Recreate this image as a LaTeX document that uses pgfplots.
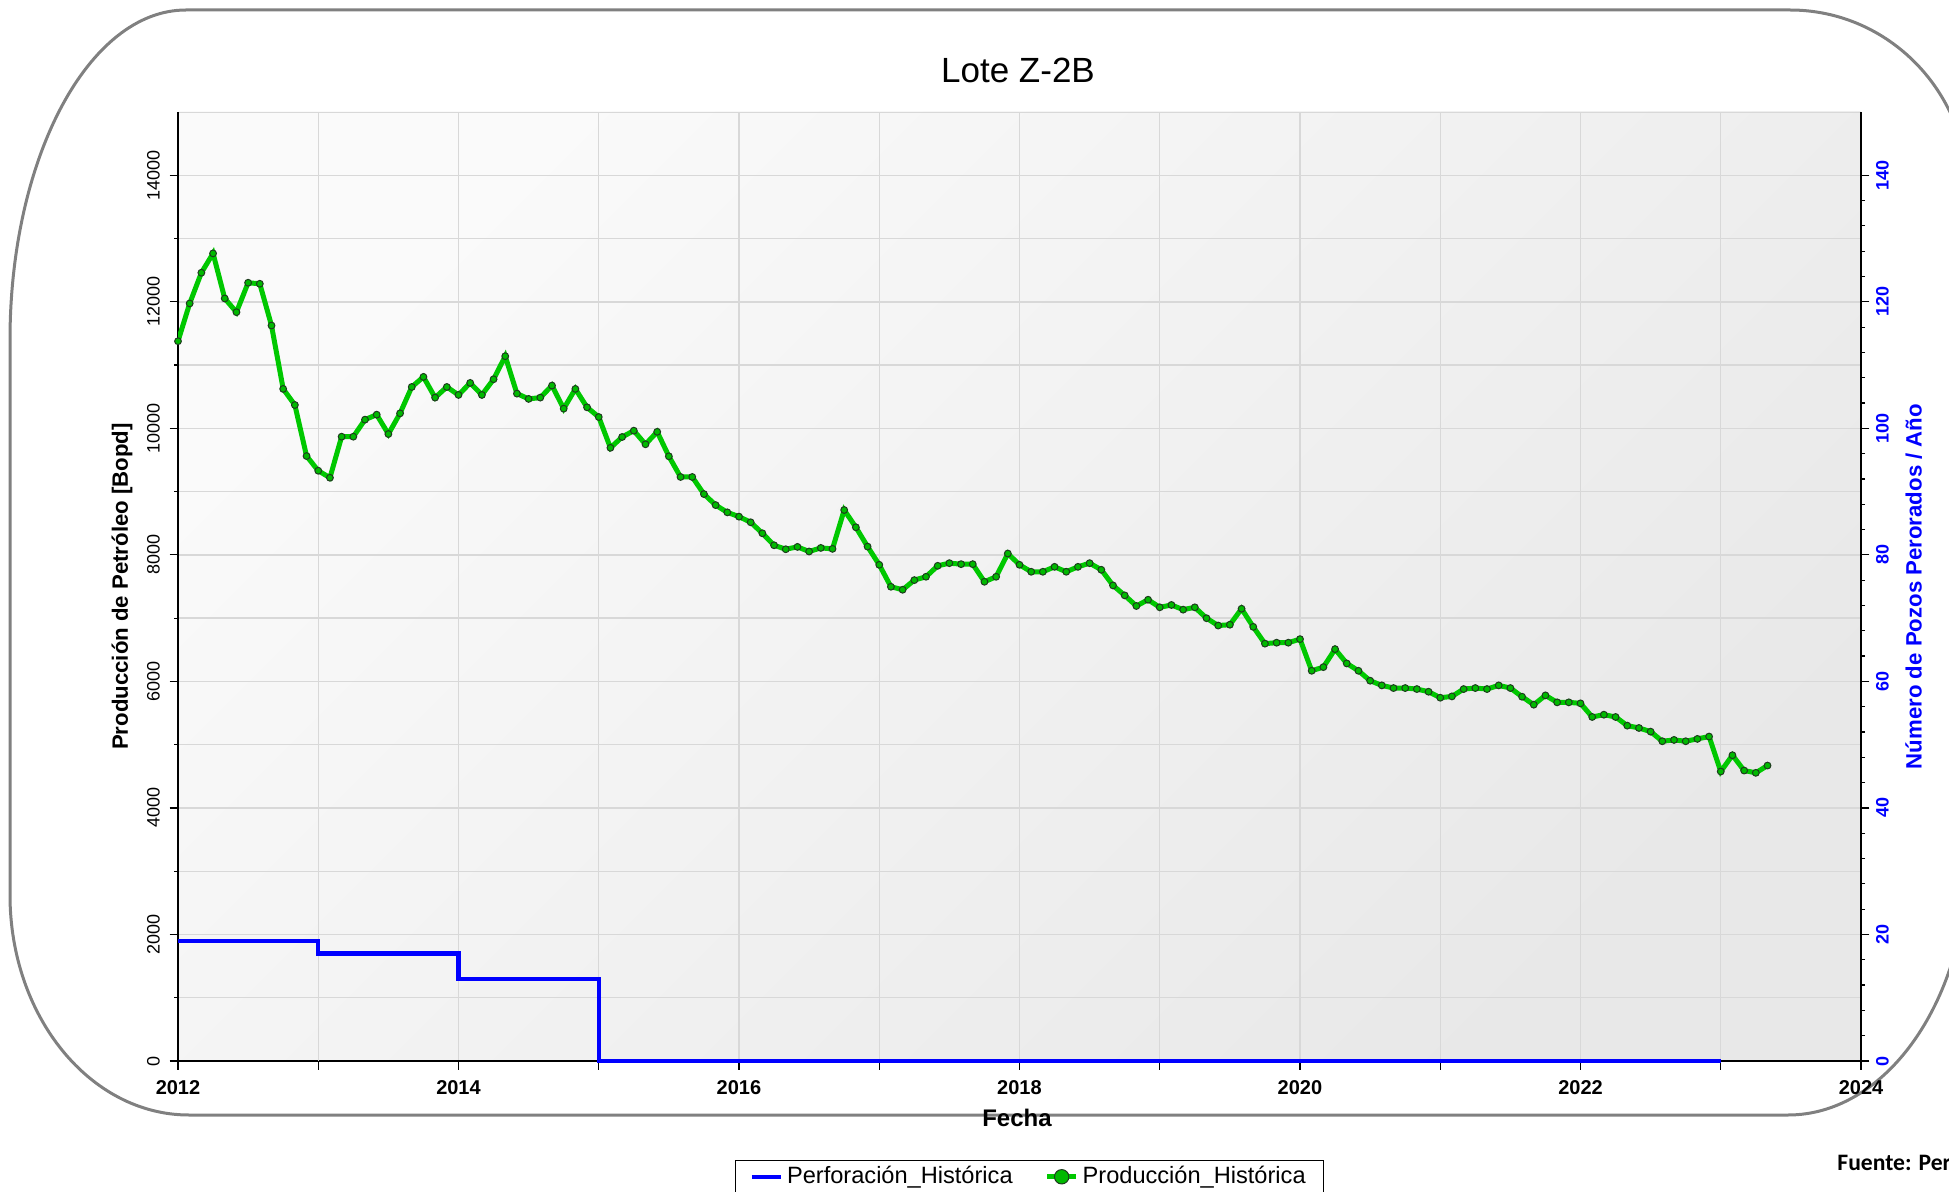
\documentclass[border=0pt]{standalone}
\usepackage{fontspec}
\setmainfont{Liberation Sans}
\newfontfamily\carlito{Carlito}
\usepackage{pgfplots}
\pgfplotsset{compat=1.18}
\usepackage{pgfplotstable}
\definecolor{prodgreen}{RGB}{0,200,0}
\definecolor{markgreen}{RGB}{0,185,0}
\definecolor{markedge}{RGB}{30,60,30}
\definecolor{perfblue}{RGB}{0,0,255}
\definecolor{gridgray}{RGB}{216,216,216}
\definecolor{framegray}{RGB}{128,128,128}
\pgfplotsset{
  bluelegend/.style={legend image code/.code={\draw[##1] (0pt,0pt) -- (14.5pt,0pt);}},
  greenlegend/.style={legend image code/.code={\draw[mark repeat=2,mark phase=2,##1, mark size=3.6pt] plot coordinates {(0pt,0pt) (7.25pt,0pt) (14.5pt,0pt)};}},
}

\pgfplotstableread{
x y
2012.0000 11377
2012.0833 11974
2012.1667 12459
2012.2500 12765
2012.3333 12053
2012.4167 11836
2012.5000 12301
2012.5833 12285
2012.6667 11625
2012.7500 10623
2012.8333 10369
2012.9167 9562
2013.0000 9330
2013.0833 9219
2013.1667 9868
2013.2500 9868
2013.3333 10137
2013.4167 10216
2013.5000 9910
2013.5833 10237
2013.6667 10654
2013.7500 10813
2013.8333 10486
2013.9167 10654
2014.0000 10528
2014.0833 10718
2014.1667 10528
2014.2500 10776
2014.3333 11140
2014.4167 10549
2014.5000 10465
2014.5833 10486
2014.6667 10676
2014.7500 10311
2014.8333 10623
2014.9167 10332
2015.0000 10179
2015.0833 9692
2015.1667 9863
2015.2500 9963
2015.3333 9748
2015.4167 9945
2015.5000 9558
2015.5833 9231
2015.6667 9231
2015.7500 8961
2015.8333 8787
2015.9167 8672
2016.0000 8604
2016.0833 8515
2016.1667 8341
2016.2500 8152
2016.3333 8089
2016.4167 8126
2016.5000 8053
2016.5833 8110
2016.6667 8095
2016.7500 8709
2016.8333 8436
2016.9167 8131
2017.0000 7843
2017.0833 7496
2017.1667 7449
2017.2500 7601
2017.3333 7654
2017.4167 7827
2017.5000 7869
2017.5833 7853
2017.6667 7853
2017.7500 7575
2017.8333 7654
2017.9167 8021
2018.0000 7843
2018.0833 7733
2018.1667 7733
2018.2500 7811
2018.3333 7733
2018.4167 7811
2018.5000 7869
2018.5833 7764
2018.6667 7517
2018.7500 7360
2018.8333 7192
2018.9167 7291
2019.0000 7171
2019.0833 7208
2019.1667 7134
2019.2500 7171
2019.3333 6999
2019.4167 6883
2019.5000 6896
2019.5833 7148
2019.6667 6862
2019.7500 6597
2019.8333 6612
2019.9167 6612
2020.0000 6668
2020.0833 6168
2020.1667 6226
2020.2500 6510
2020.3333 6284
2020.4167 6168
2020.5000 6011
2020.5833 5937
2020.6667 5895
2020.7500 5895
2020.8333 5879
2020.9167 5837
2021.0000 5742
2021.0833 5763
2021.1667 5879
2021.2500 5895
2021.3333 5879
2021.4167 5937
2021.5000 5895
2021.5833 5758
2021.6667 5632
2021.7500 5779
2021.8333 5669
2021.9167 5669
2022.0000 5653
2022.0833 5438
2022.1667 5474
2022.2500 5438
2022.3333 5301
2022.4167 5264
2022.5000 5206
2022.5833 5054
2022.6667 5075
2022.7500 5054
2022.8333 5091
2022.9167 5128
2023.0000 4576
2023.0833 4833
2023.1667 4591
2023.2500 4555
2023.3333 4670
}\prodtable

\begin{document}
\begin{tikzpicture}
\path[use as bounding box] (0pt,0pt) rectangle (974.5pt,-596pt);
\begin{scope}[x=0.5pt,y=-0.5pt]
\draw[framegray, line width=1.5pt] (10,340)
  arc[start angle=180,end angle=270,x radius=176,y radius=330] -- (1790,10)
  arc[start angle=270,end angle=360,x radius=178,y radius=182] -- (1968,855)
  arc[start angle=0,end angle=90,x radius=180,y radius=260] -- (189,1115)
  arc[start angle=90,end angle=180,x radius=179,y radius=220] -- cycle;
\node[anchor=base, inner sep=0pt, font=\fontsize{17.5}{20}\selectfont] at (1018,82.7) {Lote Z-2B};
\node[anchor=base west, inner sep=0pt, font=\carlito\fontsize{11.8}{13}\selectfont\bfseries] at (1837,1170.7) {Fuente: Perupetro};
\end{scope}

\begin{axis}[
  at={(89pt,-530.5pt)}, anchor=south west,
  scale only axis, width=841.5pt, height=474.5pt,
  xmin=2012, xmax=2024, ymin=0, ymax=15000,
  axis x line*=bottom, axis y line*=left,
  axis line style={black, line width=0.6pt},
  xtick={2012,2014,...,2024},
  extra x ticks={2013,2015,...,2023}, extra x tick labels={},
  extra x tick style={grid=major},
  ytick={0,2000,...,14000}, minor y tick num=1,
  scaled y ticks=false,
  grid=both,
  major grid style={gridgray, line width=0.7pt},
  minor grid style={gridgray, line width=0.7pt},
  tick align=outside, tick style={black, line width=0.6pt},
  major tick length=4.25pt, minor tick length=2pt,
  /pgf/number format/assume math mode=true,
  xticklabel style={font=\fontsize{10}{12}\selectfont\bfseries, /pgf/number format/1000 sep={}, anchor=base},
  xticklabel shift=12.25pt,
  yticklabel style={font=\fontsize{9}{11}\selectfont, rotate=90, anchor=base, /pgf/number format/1000 sep={}},
  yticklabel shift=4.9pt,
  axis background/.style={top color=white!98!black, bottom color=black!9, shading angle=45, draw=gridgray},
  xlabel={Fecha},
  xlabel style={at={(axis description cs:0.4985,-0.0595)}, anchor=center, font=\fontsize{12}{14}\selectfont\bfseries},
  ylabel={Producción de Petróleo [Bopd]},
  ylabel style={at={(axis description cs:-0.03327,0.5)}, rotate=0, anchor=center, font=\fontsize{11.1}{13}\selectfont\bfseries},
  legend columns=2,
  legend cell align=left,
  legend style={at={(0.331,-0.1043)}, anchor=north west, draw=black, line width=0.6pt, fill=white,
    font=\fontsize{11.8}{13}\selectfont, inner xsep=7pt, inner ysep=1pt,
    /tikz/every even column/.append style={column sep=14pt}},
]
\addlegendimage{perfblue, line width=2.2pt, bluelegend}
\addlegendentry{Perforación\_Histórica}
\addplot[prodgreen, line width=2.5pt, mark=*, mark size=1.7pt,
  mark options={fill=markgreen, draw=markedge, line width=0.5pt}, greenlegend]
  table[x=x,y=y]{\prodtable};
\addlegendentry{Producción\_Histórica}
\end{axis}

\begin{axis}[
  at={(89pt,-530.5pt)}, anchor=south west,
  scale only axis, width=841.5pt, height=474.5pt,
  xmin=2012, xmax=2024, ymin=0, ymax=150,
  axis x line=none, axis y line*=right,
  axis line style={black, line width=0.6pt},
  ytick={0,20,...,140}, minor y tick num=4,
  tick align=outside, tick style={black, line width=0.6pt},
  major tick length=4.25pt, minor tick length=2pt,
  /pgf/number format/assume math mode=true,
  yticklabel style={font=\fontsize{9}{11}\selectfont\bfseries, text=perfblue, rotate=90, anchor=base},
  yticklabel shift=9.6pt,
  ylabel={Número de Pozos Perorados / Año},
  ylabel style={at={(axis description cs:1.0313,0.5)}, rotate=0, anchor=center, text=perfblue, font=\fontsize{11.1}{13}\selectfont\bfseries},
  clip=false,
]
\addplot[perfblue, line width=2.2pt, const plot] coordinates {(2012,19) (2013,17) (2014,13) (2015,0) (2023,0)};
\end{axis}
\end{tikzpicture}
\end{document}
